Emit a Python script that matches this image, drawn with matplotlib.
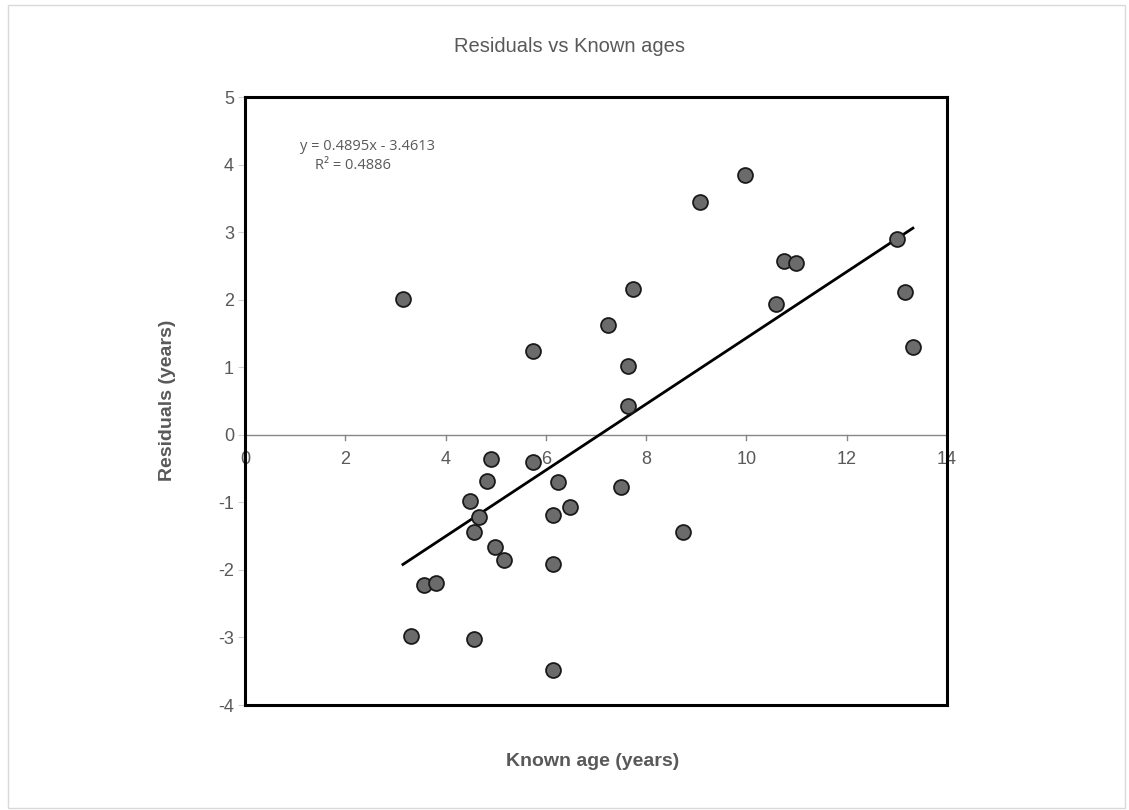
import numpy as np
from matplotlib import pyplot as plt
from matplotlib.patches import Rectangle

# known age (years) and residuals (years)
known_age = [3.15, 3.31, 3.57, 3.81, 4.49, 4.57, 4.57, 4.67, 4.83, 4.91, 4.99,
             5.17, 5.74, 5.74, 6.14, 6.14, 6.14, 6.24, 6.48, 7.24, 7.50, 7.64,
             7.64, 7.74, 8.74, 9.07, 9.97, 10.59, 10.75, 10.99, 13.00, 13.16, 13.32]
residuals = [2.01, -2.98, -2.22, -2.20, -0.98, -1.44, -3.03, -1.22, -0.69, -0.36, -1.66,
             -1.85, 1.24, -0.40, -1.19, -1.91, -3.48, -0.70, -1.07, 1.63, -0.77, 1.02,
             0.43, 2.16, -1.44, 3.44, 3.84, 1.93, 2.57, 2.54, 2.90, 2.12, 1.30]

slope = 0.4895
intercept = -3.4613
r2 = 0.4886

x_ticks = [0, 2, 4, 6, 8, 10, 12, 14]
y_ticks = [-4, -3, -2, -1, 0, 1, 2, 3, 4, 5]

grey = '#595959'
plt.rcParams['font.family'] = ['Liberation Sans', 'DejaVu Sans']

fig = plt.figure(figsize=(11.29, 8.10), dpi=100)
fig.patches.append(Rectangle((8 / 1129, 0.002), 1117 / 1129, 1 - 5 / 810 - 0.002,
                             transform=fig.transFigure, fill=False,
                             edgecolor='#d9d9d9', linewidth=1))

ax = fig.add_axes([245 / 1129, 1 - 705 / 810, (947 - 245) / 1129, (705 - 97) / 810])
ax.set_xlim(0, 14)
ax.set_ylim(-4, 5)

for s in ax.spines.values():
    s.set_color('black')
    s.set_linewidth(2.2)

# horizontal axis through y=0
ax.axhline(0, color='#868686', linewidth=1, zorder=1)
for t in x_ticks:
    ax.plot([t, t], [0, -0.08], color='#868686', linewidth=1, zorder=1, clip_on=False)
    ax.text(t, -0.24, str(t), ha='center', va='top', fontsize=13, color=grey, zorder=2)

ax.set_xticks([])
ax.set_yticks(y_ticks)
ax.set_yticklabels([str(v) for v in y_ticks], fontsize=13, color=grey)
ax.tick_params(axis='y', direction='out', length=5, color='#d0d0d0', pad=3)

xs = np.array([min(known_age), max(known_age)])
ax.plot(xs, slope * xs + intercept, color='black', linewidth=2, zorder=3)

ax.scatter(known_age, residuals, s=115, color='#6b6b6b', edgecolor='#1a1a1a',
           linewidth=1.3, zorder=4)

ax.text(2.45, 4.27, 'y = %.4fx - %.4f' % (slope, -intercept), ha='center', va='center',
        fontsize=10.5, color=grey, family=['Open Sans', 'DejaVu Sans'])
ax.text(2.15, 3.98, 'R² = %.4f' % r2, ha='center', va='center',
        fontsize=10.5, color=grey, family=['Open Sans', 'DejaVu Sans'])

fig.text(569 / 1129, 1 - 47 / 810, 'Residuals vs Known ages', ha='center', va='center',
         fontsize=14.5, color=grey)
fig.text(167 / 1129, 1 - 400 / 810, 'Residuals (years)', ha='center', va='center',
         rotation=90, fontsize=14, fontweight='bold', color=grey)
fig.text(593 / 1129, 1 - 762 / 810, 'Known age (years)', ha='center', va='center',
         fontsize=14, fontweight='bold', color=grey)

plt.savefig('out.png', dpi=100)
